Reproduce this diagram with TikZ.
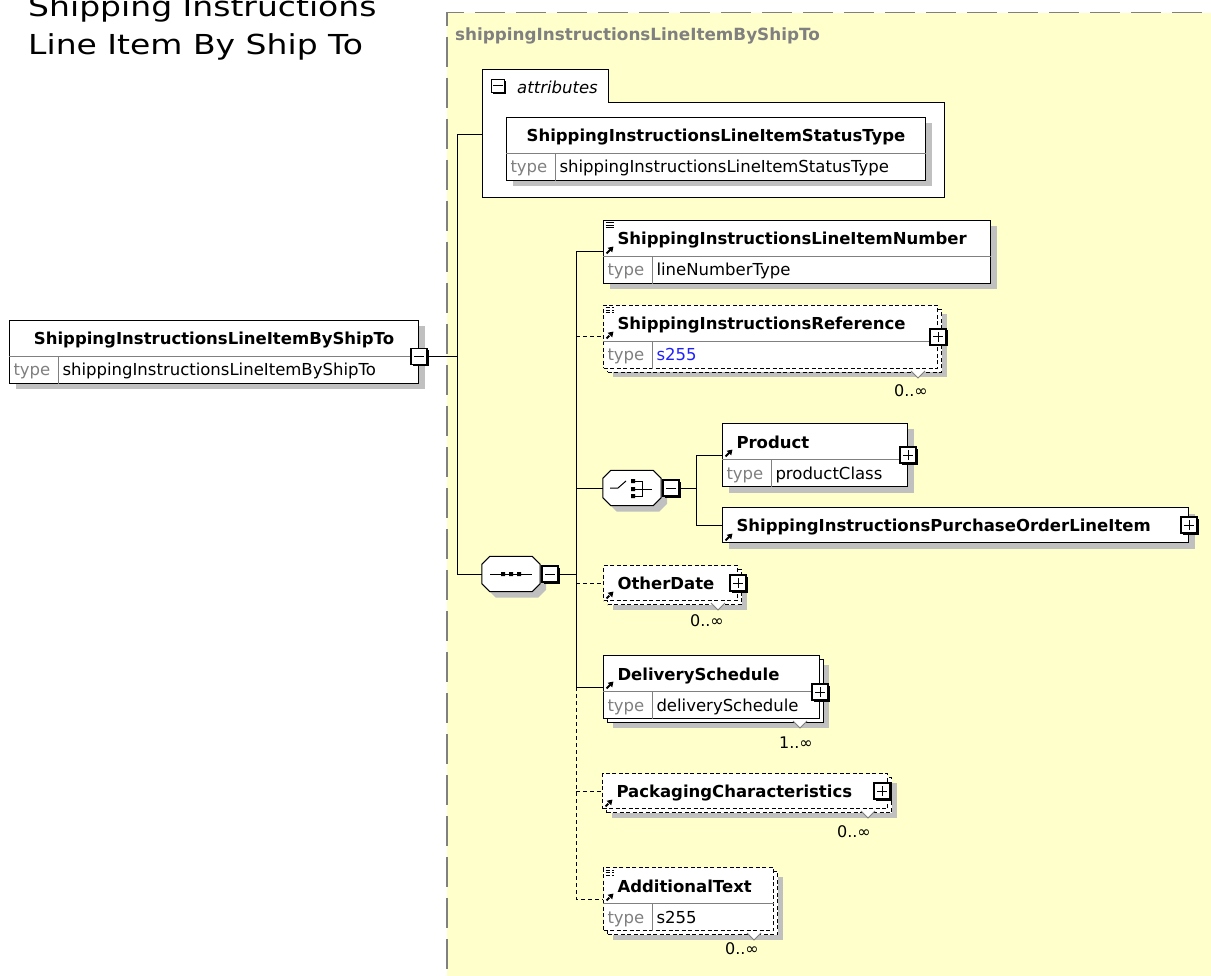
\documentclass[tikz,border=0pt]{standalone}
\usepackage{fontspec}
\setmainfont{DejaVu Sans}
\newfontfamily\titlefont[FakeStretch=1.2]{DejaVu Sans}
\usetikzlibrary{
    positioning,
    calc,
    arrows.meta,
    shapes.multipart,
    shadows
}
\definecolor{groupyellow}{HTML}{FFFFCC}
\definecolor{shadowgray}{HTML}{C0C0C0}
\definecolor{typegray}{HTML}{808080}
\definecolor{bordergray}{HTML}{808080}
\definecolor{linkblue}{HTML}{2020FF}

\newcommand{\hdstrut}{\rule[-11pt]{0pt}{35pt}}
\newcommand{\typerow}[1]{\rule[-7pt]{0pt}{26pt}\makebox[45pt][l]{\color{typegray}type}\hspace{4pt}#1}
% octagon round a compositor node
\newcommand{\octagon}[1]{([xshift=8pt]#1.north west) -- ([xshift=-8pt]#1.north east)
    -- ([yshift=-8pt]#1.north east) -- ([yshift=8pt]#1.south east)
    -- ([xshift=-8pt]#1.south east) -- ([xshift=8pt]#1.south west)
    -- ([yshift=8pt]#1.south west) -- ([yshift=-8pt]#1.north west) -- cycle}

\tikzset{
    boxfont/.style={font=\fontsize{16.5}{19}\selectfont},
    title/.style={anchor=base west, align=left, inner sep=0pt,
        font=\titlefont\fontsize{27.5}{38}\selectfont},
    group/.style={anchor=north west, minimum width=800pt, minimum height=1000pt,
        fill=groupyellow, draw=bordergray, line width=1.5pt,
        dash pattern=on 30pt off 11pt},
    grouplabel/.style={anchor=base west, inner sep=0pt, text=typegray,
        font=\fontsize{16.8}{19}\selectfont\bfseries},
    groupline/.style={line width=1pt},
    attrtab/.style={anchor=north west, fill=white, inner sep=0pt,
        text width=126pt, align=left, minimum height=32pt,
        font=\fontsize{16.5}{19}\selectfont\itshape},
    attrarea/.style={anchor=north west, fill=white, inner sep=0pt,
        minimum width=462pt, minimum height=95pt},
    element/.style={draw, fill=white, anchor=north west, inner xsep=4pt,
        inner ysep=0pt, align=left, boxfont, line width=1pt},
    typed/.style={element, rectangle split, rectangle split parts=2,
        rectangle split draw splits=false},
    optional/.style={dash pattern=on 4pt off 2.5pt},
    shade/.style={drop shadow={shadow xshift=6pt, shadow yshift=-6pt,
        opacity=1, fill=shadowgray}},
    stack/.style={drop shadow={shadow xshift=9pt, shadow yshift=-9pt,
        opacity=1, fill=shadowgray},
        copy shadow={shadow xshift=4pt, shadow yshift=-4pt}},
    refarrow/.style={line width=2pt, -{Triangle[length=5pt, width=6pt]}},
    refmark/.style={path picture={
        \draw[refarrow] ([shift={(3,33)}]path picture bounding box.north west) -- ++(7,-7);
    }},
    docmark/.style={path picture={
        \draw[refarrow] ([shift={(3,33)}]path picture bounding box.north west) -- ++(7,-7);
        \draw[line width=1pt] ([shift={(2,2.5)}]path picture bounding box.north west)
            -- ++(8,0) ++(-8,2.5) -- ++(8,0) ++(-8,2.5) -- ++(8,0);
    }},
    rowline/.style={draw=typegray, line width=0.8pt},
    expander/.style={draw, line width=1.2pt, fill=white, minimum size=16pt,
        inner sep=0pt, drop shadow={shadow xshift=1.5pt, shadow yshift=-1.5pt,
        opacity=1, fill=black}},
    plus/.style={expander, path picture={
        \draw[line width=1pt] ([xshift=-5pt]path picture bounding box.center)
            -- ([xshift=5pt]path picture bounding box.center)
            ([yshift=-5pt]path picture bounding box.center)
            -- ([yshift=5pt]path picture bounding box.center);
    }},
    minus/.style={expander, path picture={
        \draw[line width=1pt] ([xshift=-5pt]path picture bounding box.center)
            -- ([xshift=5pt]path picture bounding box.center);
    }},
    compositor/.style={minimum width=58pt, minimum height=35pt, inner sep=0pt},
    compositorline/.style={draw, fill=white, line width=1pt, shade},
    seqmark/.style={path picture={
        \begin{scope}[shift={(path picture bounding box.center)}]
            \draw[line width=1pt] (-21,0) -- (21,0);
            \fill[black] (-10,-2) rectangle ++(4,4) (-2,-2) rectangle ++(4,4)
                (6,-2) rectangle ++(4,4);
        \end{scope}
    }},
    choicemark/.style={path picture={
        \begin{scope}[shift={(path picture bounding box.center)}]
            \draw[line width=1pt] (-22,0) -- (-14,0) -- (-6,-7);
            \fill[black] (-1,-9) rectangle ++(4,4) (-1,-1) rectangle ++(4,4)
                (-1,6) rectangle ++(4,4);
            \draw[line width=1pt] (3,-7) -- (10,-7) -- (10,8) -- (3,8)
                (3,1) -- (20,1);
        \end{scope}
    }},
    link/.style={line width=1pt},
    optlink/.style={line width=1pt, dash pattern=on 4pt off 3pt},
    mult/.style={anchor=base east, inner sep=0pt, font=\fontsize{16}{18}\selectfont},
    notch/.style={draw=typegray, fill=white, line width=0.8pt}
}

\begin{document}
\begin{tikzpicture}[x=1pt, y=-1pt]
    \useasboundingbox (0,0) rectangle (1211,976);
    \clip (0,0) rectangle (1211,976);

    % Page title
    \node[title] (title) at (28,55) {Shipping Instructions\\Line Item By Ship To};

    % Complex type area
    \node[group] (typegroup) at (446,12) {};
    \node[grouplabel] (grouptitle) at (455,41) {shippingInstructionsLineItemByShipTo};

    % Root element
    \node[typed, shade, text width=401pt] (root) at (9,320) {
        \hdstrut\makebox[\hsize]{\bfseries ShippingInstructionsLineItemByShipTo}
        \nodepart{two}
        \typerow{shippingInstructionsLineItemByShipTo}
    };
    \draw[rowline] (root.text split west) -- (root.text split east)
        ($(root.text split west)+(49,0)$) -- ($(root.south west)+(49,0)$);

    % Attributes
    \node[attrarea] (attrs) at (482,102) {};
    \node[attrtab] (attrtab) at (482,70) {\rule[-9pt]{0pt}{32pt}\hspace*{35pt}attributes};
    \draw[groupline] (attrtab.south east) -| (attrs.south east)
        -| (attrtab.north west) -| (attrtab.south east);
    \node[minus, minimum size=13pt] (attrminus) at (498,86) {};

    \node[typed, shade, text width=411pt] (attr) at (506,117) {
        \hdstrut\makebox[\hsize]{\bfseries ShippingInstructionsLineItemStatusType}
        \nodepart{two}
        \typerow{shippingInstructionsLineItemStatusType}
    };
    \draw[rowline] (attr.text split west) -- (attr.text split east)
        ($(attr.text split west)+(49,0)$) -- ($(attr.south west)+(49,0)$);

    % Sequence and choice
    \node[compositor] (seq) at (511,574) {};
    \draw[compositorline, seqmark] \octagon{seq};
    \node[compositor] (choice) at (632,488) {};
    \draw[compositorline, choicemark] \octagon{choice};

    % Child elements
    \node[typed, shade, docmark, text width=379pt] (lineno) at (603,220) {
        \hdstrut\hspace*{10pt}\textbf{ShippingInstructionsLineItemNumber}
        \nodepart{two}
        \typerow{lineNumberType}
    };
    \draw[rowline] (lineno.text split west) -- (lineno.text split east)
        ($(lineno.text split west)+(49,0)$) -- ($(lineno.south west)+(49,0)$);

    \node[typed, optional, stack, docmark, text width=326pt] (ref) at (603,305) {
        \hdstrut\hspace*{10pt}\textbf{ShippingInstructionsReference}
        \nodepart{two}
        \typerow{\textcolor{linkblue}{s255}}
    };
    \draw[rowline] (ref.text split west) -- (ref.text split east)
        ($(ref.text split west)+(49,0)$) -- ($(ref.south west)+(49,0)$);

    \node[typed, shade, refmark, text width=177pt] (product) at (722,423) {
        \hdstrut\hspace*{10pt}\textbf{Product}
        \nodepart{two}
        \typerow{productClass}
    };
    \draw[rowline] (product.text split west) -- (product.text split east)
        ($(product.text split west)+(49,0)$) -- ($(product.south west)+(49,0)$);

    \node[element, shade, refmark, text width=458pt] (poline) at (722,507) {
        \hdstrut\hspace*{10pt}\textbf{ShippingInstructionsPurchaseOrderLineItem}
    };

    \node[element, optional, stack, refmark, text width=126pt] (otherdate) at (603,565) {
        \hdstrut\hspace*{10pt}\textbf{OtherDate}
    };

    \node[typed, stack, refmark, text width=208pt] (delivery) at (603,655) {
        \hdstrut\hspace*{10pt}\textbf{DeliverySchedule}
        \nodepart{two}
        \typerow{deliverySchedule}
    };
    \draw[rowline] (delivery.text split west) -- (delivery.text split east)
        ($(delivery.text split west)+(49,0)$) -- ($(delivery.south west)+(49,0)$);

    \node[element, optional, stack, refmark, text width=277pt] (packaging) at (602,773) {
        \hdstrut\hspace*{10pt}\textbf{PackagingCharacteristics}
    };

    \node[typed, optional, stack, docmark, text width=162pt] (addtext) at (603,867) {
        \hdstrut\hspace*{10pt}\textbf{AdditionalText}
        \nodepart{two}
        \typerow{s255}
    };
    \draw[rowline] (addtext.text split west) -- (addtext.text split east)
        ($(addtext.text split west)+(49,0)$) -- ($(addtext.south west)+(49,0)$);

    % Occurrence notches and labels
    \draw[notch] ([shift={(-27,2)}]ref.south east) -- ++(7,7) -- ++(7,-7);
    \draw[notch] ([shift={(-27,2)}]otherdate.south east) -- ++(7,7) -- ++(7,-7);
    \draw[notch] ([shift={(-27,2)}]delivery.south east) -- ++(7,7) -- ++(7,-7);
    \draw[notch] ([shift={(-27,2)}]packaging.south east) -- ++(7,7) -- ++(7,-7);
    \draw[notch] ([shift={(-27,2)}]addtext.south east) -- ++(7,7) -- ++(7,-7);
    \node[mult] (refmult) at ([shift={(-10,27)}]ref.south east) {0..∞};
    \node[mult] (othermult) at ([shift={(-14,25)}]otherdate.south east) {0..∞};
    \node[mult] (delivmult) at ([shift={(-7,29)}]delivery.south east) {1..∞};
    \node[mult] (packmult) at ([shift={(-17,28)}]packaging.south east) {0..∞};
    \node[mult] (addmult) at ([shift={(-15,23)}]addtext.south east) {0..∞};

    % Connectors
    \coordinate (rootbus) at (457,0);
    \coordinate (seqbus) at (576,0);
    \coordinate (choicebus) at (696,0);
    \coordinate (attrentry) at ([yshift=15pt]attrs.west);

    \node[minus] (rootminus) at (root.text split east) {};
    \draw[link] (rootminus.east) -- (rootminus.east -| rootbus);
    \draw[link] (attrentry) -| (rootbus |- seq.west) -- (seq.west);

    \node[minus] (seqminus) at (550,574) {};
    \draw[link] (seqminus.east) -- (seqminus.east -| seqbus);
    \draw[link] (lineno.west) -| (seqbus |- delivery.west) -- (delivery.west);
    \draw[optlink] (seqbus |- delivery.west) |- (addtext.west);
    \draw[optlink] (seqbus |- ref.west) -- (ref.west);
    \draw[link] (seqbus |- choice.west) -- (choice.west);
    \draw[optlink] (seqbus |- otherdate.west) -- (otherdate.west);
    \draw[optlink] (seqbus |- packaging.west) -- (packaging.west);

    \node[minus] (choiceminus) at (671,488) {};
    \draw[link] (choiceminus.east) -- (choiceminus.east -| choicebus);
    \draw[link] (product.west) -| (choicebus |- poline.west) -- (poline.west);

    % Expand buttons
    \node[plus] (refplus) at (ref.east) {};
    \node[plus] (productplus) at (product.east) {};
    \node[plus] (polineplus) at (poline.east) {};
    \node[plus] (otherplus) at (otherdate.east) {};
    \node[plus] (deliveryplus) at ([yshift=-5pt]delivery.east) {};
    \node[plus] (packplus) at ([xshift=-6pt]packaging.east) {};
\end{tikzpicture}
\end{document}
